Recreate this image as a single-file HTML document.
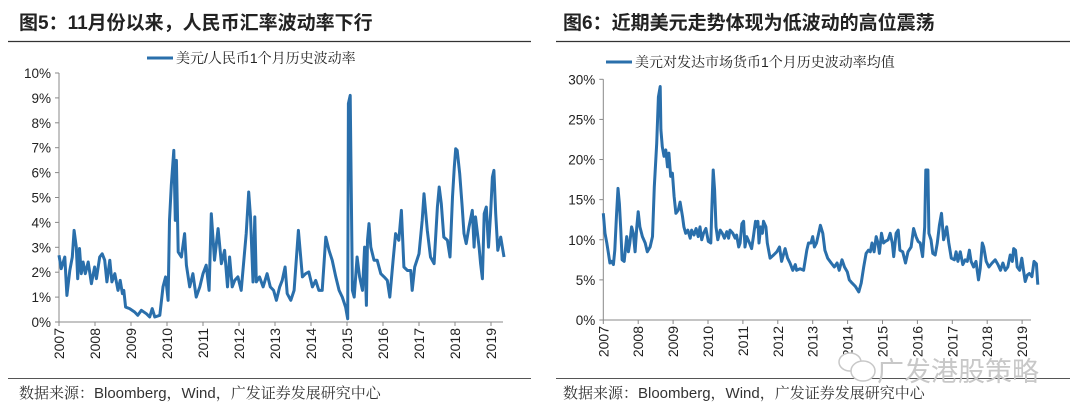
<!DOCTYPE html>
<html><head><meta charset="utf-8">
<style>
html,body{margin:0;padding:0;background:#fff;}
body{width:1080px;height:416px;overflow:hidden;position:relative;font-family:"Liberation Sans","Noto Sans CJK SC",sans-serif;}
svg{position:absolute;left:0;top:0;}
</style></head>
<body>
<svg id="root" width="1080" height="416" xmlns="http://www.w3.org/2000/svg">
  <g>
    <text x="19" y="29" font-size="19" font-weight="bold" fill="#222" font-family="'Liberation Sans','Noto Sans CJK SC',sans-serif">图5：11月份以来，人民币汇率波动率下行</text>
    <line x1="8" y1="41.5" x2="531" y2="41.5" stroke="#333" stroke-width="1.2"/>
  </g>
  <g>
    <text x="563" y="29" font-size="19" font-weight="bold" fill="#222" font-family="'Liberation Sans','Noto Sans CJK SC',sans-serif">图6：近期美元走势体现为低波动的高位震荡</text>
    <line x1="556" y1="41.5" x2="1070" y2="41.5" stroke="#333" stroke-width="1.2"/>
  </g>
  <g>
    <line x1="147" y1="58" x2="173" y2="58" stroke="#2a6fab" stroke-width="3"/>
    <text x="176" y="63" font-size="14" fill="#222" font-family="'Liberation Sans','Noto Serif CJK SC',serif">美元/人民币1个月历史波动率</text>
  </g>
  <g>
    <line x1="606" y1="62" x2="632" y2="62" stroke="#2a6fab" stroke-width="3"/>
    <text x="635" y="67" font-size="14" fill="#222" font-family="'Liberation Sans','Noto Serif CJK SC',serif">美元对发达市场货币1个月历史波动率均值</text>
  </g>
  <g id="leftChart"></g>
  <g id="rightChart"></g>
  <g>
    <line x1="8" y1="378.5" x2="531" y2="378.5" stroke="#555" stroke-width="1"/>
    <line x1="556" y1="378.5" x2="1070" y2="378.5" stroke="#555" stroke-width="1"/>
    <g fill="#fff" stroke="#c8c8c8" stroke-width="1.5">
      <ellipse cx="850" cy="362" rx="11" ry="9"/><ellipse cx="863" cy="371" rx="12" ry="10"/>
    </g>
    <text x="877" y="381" font-size="27" fill="#c8c8c8" font-family="'Noto Sans CJK SC',sans-serif">广发港股策略</text>
    <text x="19" y="398" font-size="15" fill="#333" font-family="'Liberation Sans','Noto Serif CJK SC',serif">数据来源：Bloomberg，Wind，广发证券发展研究中心</text>
    <text x="563" y="398" font-size="15" fill="#333" font-family="'Liberation Sans','Noto Serif CJK SC',serif">数据来源：Bloomberg，Wind，广发证券发展研究中心</text>
  </g>
</svg>
<script>
// ---------- Left chart data: USD/CNY 1M historical volatility (%) ----------
const leftDates = [2007.00,2007.06,2007.16,2007.22,2007.30,2007.37,2007.42,2007.48,2007.52,2007.57,2007.62,2007.67,2007.73,2007.81,2007.90,2007.99,2008.04,2008.13,2008.20,2008.27,2008.33,2008.41,2008.47,2008.55,2008.64,2008.70,2008.76,2008.80,2008.85,2008.96,2009.10,2009.19,2009.29,2009.43,2009.52,2009.59,2009.66,2009.80,2009.89,2009.96,2010.03,2010.07,2010.12,2010.19,2010.23,2010.26,2010.31,2010.40,2010.49,2010.54,2010.63,2010.72,2010.81,2010.91,2011.00,2011.09,2011.17,2011.23,2011.32,2011.42,2011.51,2011.60,2011.68,2011.74,2011.81,2011.88,2011.97,2012.06,2012.20,2012.27,2012.32,2012.39,2012.44,2012.48,2012.57,2012.67,2012.78,2012.87,2012.96,2013.04,2013.13,2013.20,2013.28,2013.34,2013.44,2013.53,2013.65,2013.76,2013.85,2013.94,2014.04,2014.13,2014.22,2014.31,2014.41,2014.50,2014.59,2014.69,2014.78,2014.87,2014.96,2015.02,2015.04,2015.09,2015.12,2015.15,2015.20,2015.28,2015.35,2015.43,2015.49,2015.54,2015.57,2015.61,2015.66,2015.75,2015.84,2015.94,2016.03,2016.12,2016.19,2016.28,2016.35,2016.44,2016.51,2016.58,2016.68,2016.77,2016.81,2016.88,2017.00,2017.09,2017.14,2017.23,2017.32,2017.42,2017.51,2017.56,2017.62,2017.69,2017.79,2017.86,2017.93,2017.98,2018.02,2018.06,2018.13,2018.20,2018.25,2018.31,2018.39,2018.48,2018.53,2018.57,2018.67,2018.71,2018.76,2018.81,2018.87,2018.93,2018.99,2019.04,2019.08,2019.13,2019.19,2019.27,2019.36];
const leftValues = [2.68,2.14,2.61,1.07,2.07,2.61,3.68,3.01,1.74,2.95,1.94,2.41,1.94,2.41,1.54,2.21,1.74,2.61,2.74,2.48,1.61,2.48,1.61,1.94,1.27,1.67,1.14,1.27,0.60,0.54,0.40,0.27,0.47,0.33,0.20,0.54,0.20,0.27,1.41,1.81,0.87,4.08,5.49,6.89,4.08,6.49,2.81,2.61,3.55,2.28,1.41,1.94,1.00,1.41,1.94,2.28,1.27,4.35,2.48,3.75,2.34,2.88,1.41,2.61,1.41,1.67,1.81,1.27,3.55,5.22,4.22,1.61,4.22,1.61,1.81,1.41,1.94,1.41,1.27,0.87,1.41,1.67,2.21,1.14,0.87,1.27,3.68,1.81,1.94,2.01,1.41,1.67,1.27,1.27,3.41,2.88,2.48,1.81,1.27,1.00,0.60,0.13,8.77,9.10,5.15,1.27,1.00,2.61,1.81,1.27,3.01,0.67,3.28,3.95,3.01,2.48,2.48,1.94,1.81,1.67,1.00,2.48,3.55,3.28,4.48,2.21,2.07,2.07,1.27,2.21,2.74,4.08,5.15,3.68,2.61,2.34,4.62,5.42,4.75,3.41,3.28,2.61,5.02,6.22,6.96,6.89,5.96,4.62,3.55,3.15,3.82,4.48,3.01,4.22,3.01,2.34,1.74,4.35,4.62,3.01,4.35,5.82,6.09,4.35,2.88,3.41,2.61];
const leftYTicks = [0,1,2,3,4,5,6,7,8,9,10];
const leftYears = [2007,2008,2009,2010,2011,2012,2013,2014,2015,2016,2017,2018,2019];

// ---------- Right chart data: USD vs DM currencies avg 1M vol (%) ----------
const rightDates = [2007.00,2007.05,2007.10,2007.14,2007.19,2007.24,2007.29,2007.33,2007.38,2007.42,2007.46,2007.50,2007.54,2007.60,2007.67,2007.72,2007.76,2007.81,2007.86,2007.91,2007.96,2008.00,2008.05,2008.12,2008.20,2008.26,2008.34,2008.41,2008.46,2008.53,2008.58,2008.63,2008.65,2008.69,2008.74,2008.79,2008.84,2008.88,2008.93,2008.98,2009.03,2009.08,2009.15,2009.20,2009.27,2009.31,2009.36,2009.42,2009.49,2009.53,2009.60,2009.66,2009.72,2009.77,2009.82,2009.87,2009.94,2010.01,2010.08,2010.11,2010.15,2010.19,2010.23,2010.28,2010.35,2010.41,2010.47,2010.54,2010.59,2010.63,2010.71,2010.78,2010.82,2010.88,2010.92,2010.97,2011.02,2011.06,2011.11,2011.19,2011.25,2011.30,2011.36,2011.40,2011.43,2011.46,2011.51,2011.56,2011.59,2011.66,2011.70,2011.78,2011.88,2011.97,2012.05,2012.11,2012.21,2012.28,2012.35,2012.43,2012.50,2012.54,2012.64,2012.74,2012.83,2012.88,2012.95,2013.00,2013.05,2013.11,2013.16,2013.22,2013.29,2013.35,2013.43,2013.53,2013.62,2013.70,2013.76,2013.84,2013.91,2013.99,2014.05,2014.13,2014.22,2014.32,2014.39,2014.46,2014.53,2014.60,2014.65,2014.70,2014.76,2014.82,2014.87,2014.91,2014.97,2015.03,2015.08,2015.16,2015.22,2015.28,2015.32,2015.39,2015.45,2015.50,2015.58,2015.66,2015.73,2015.82,2015.89,2015.96,2016.02,2016.08,2016.15,2016.21,2016.24,2016.30,2016.33,2016.39,2016.44,2016.51,2016.57,2016.63,2016.69,2016.75,2016.80,2016.84,2016.90,2016.97,2017.06,2017.11,2017.16,2017.23,2017.30,2017.37,2017.43,2017.49,2017.54,2017.61,2017.68,2017.75,2017.80,2017.86,2017.90,2017.97,2018.05,2018.14,2018.23,2018.31,2018.38,2018.45,2018.52,2018.59,2018.66,2018.72,2018.76,2018.81,2018.86,2018.93,2018.99,2019.04,2019.09,2019.15,2019.21,2019.28,2019.34,2019.41,2019.45];
const rightValues = [13.3,10.8,9.6,8.5,7.1,7.3,6.9,8.7,13.3,16.4,14.5,11.2,7.5,7.3,10.4,8.5,9.6,11.6,10.8,8.5,11.6,13.5,11.6,10.4,9.6,8.5,9.1,10.4,16.6,22.0,27.8,29.1,23.7,21.6,20.4,21.2,19.1,20.8,17.9,18.3,15.4,13.3,13.7,14.7,12.9,11.6,10.8,11.2,10.2,11.2,10.6,11.4,10.4,11.6,10.0,10.8,11.4,9.8,9.6,13.7,18.7,16.2,11.6,10.0,11.2,10.8,10.2,11.0,10.2,11.2,10.8,10.2,10.6,9.1,9.6,12.0,12.3,9.1,10.4,9.6,8.9,10.4,12.3,11.6,12.3,9.6,11.6,10.8,12.3,11.6,9.6,7.7,8.1,8.5,9.1,7.3,8.9,7.7,7.1,6.2,6.9,6.2,6.4,6.2,8.7,9.6,9.6,10.4,9.1,9.6,10.6,11.8,10.8,8.7,7.7,7.1,6.6,7.1,6.2,7.5,6.6,6.0,5.0,4.6,4.2,3.5,4.6,6.6,8.3,8.7,8.5,9.6,8.5,10.4,9.6,8.3,10.8,9.6,9.8,10.0,10.8,9.6,7.9,10.8,11.2,8.7,8.5,7.1,8.5,9.1,11.4,10.4,9.8,9.6,7.9,11.6,18.7,18.7,10.8,10.0,8.3,8.1,9.6,11.8,13.3,10.0,10.8,11.6,9.6,7.7,7.5,8.5,7.3,8.5,6.9,7.5,7.3,8.7,7.3,6.6,7.3,5.0,6.4,9.6,9.1,7.3,6.6,7.1,7.5,6.9,6.2,7.1,6.2,6.6,8.1,7.3,8.9,8.7,6.6,6.2,7.7,6.2,4.8,5.6,5.8,5.4,7.3,7.0,4.4];
const rightYTicks = [0,5,10,15,20,25,30];
const rightYears = [2007,2008,2009,2010,2011,2012,2013,2014,2015,2016,2017,2018,2019];

const NS = 'http://www.w3.org/2000/svg';
function mk(parent, tag, attrs) {
  const el = document.createElementNS(NS, tag);
  for (const k in attrs) el.setAttribute(k, attrs[k]);
  parent.appendChild(el);
  return el;
}

function drawChart(gId, cfg, dates, values, yTicks, years, prefix) {
  const g = document.getElementById(gId);
  const xScale = d => cfg.x0 + (d - years[0]) * cfg.pxPerYear;
  const yScale = v => cfg.yBase - (v - cfg.yMin) / (cfg.yMax - cfg.yMin) * (cfg.yBase - cfg.yTop);

  const yAxis = mk(g, 'line', {x1: cfg.x0, y1: yScale(cfg.yMax), x2: cfg.x0, y2: cfg.yBase, stroke: '#888', 'stroke-width': 1});
  
  
  const xAxis = mk(g, 'line', {x1: cfg.x0, y1: cfg.yBase, x2: cfg.xEnd, y2: cfg.yBase, stroke: '#888', 'stroke-width': 1});
  
  

  yTicks.forEach(t => {
    const y = yScale(t);
    const tk = mk(g, 'line', {x1: cfg.x0 - 4, y1: y, x2: cfg.x0, y2: y, stroke: '#888', 'stroke-width': 1});
    
    
    const lb = mk(g, 'text', {x: cfg.x0 - 8, y: y + 5, 'text-anchor': 'end', 'font-size': 13.5, fill: '#222', 'font-family': "'Liberation Sans',sans-serif"});
    lb.textContent = t + '%';
    
    
  });

  years.forEach(yr => {
    const x = xScale(yr);
    const tk = mk(g, 'line', {x1: x, y1: cfg.yBase, x2: x, y2: cfg.yBase + 4, stroke: '#888', 'stroke-width': 1});
    
    
    const lb = mk(g, 'text', {x: 0, y: 0, 'text-anchor': 'end', 'font-size': 14, fill: '#222', 'font-family': "'Liberation Sans',sans-serif",
      transform: 'translate(' + (x + 5) + ',' + (cfg.yBase + 6) + ') rotate(-90)'});
    lb.textContent = yr;
    
    
  });

  let d = '';
  dates.forEach((dt, i) => {
    d += (i ? 'L' : 'M') + xScale(dt).toFixed(1) + ',' + yScale(values[i]).toFixed(1);
  });
  const path = mk(g, 'path', {d: d, fill: 'none', stroke: '#2a6fab', 'stroke-width': 3, 'stroke-linejoin': 'round'});
  
  
}

drawChart('leftChart', {x0: 59, xEnd: 503, pxPerYear: 36, yBase: 322, yTop: 73, yMin: 0, yMax: 10},
  leftDates, leftValues, leftYTicks, leftYears, 'left');
drawChart('rightChart', {x0: 603.3, xEnd: 1031, pxPerYear: 34.9, yBase: 320, yTop: 79.3, yMin: 0, yMax: 30},
  rightDates, rightValues, rightYTicks, rightYears, 'right');
</script>
</body></html>
